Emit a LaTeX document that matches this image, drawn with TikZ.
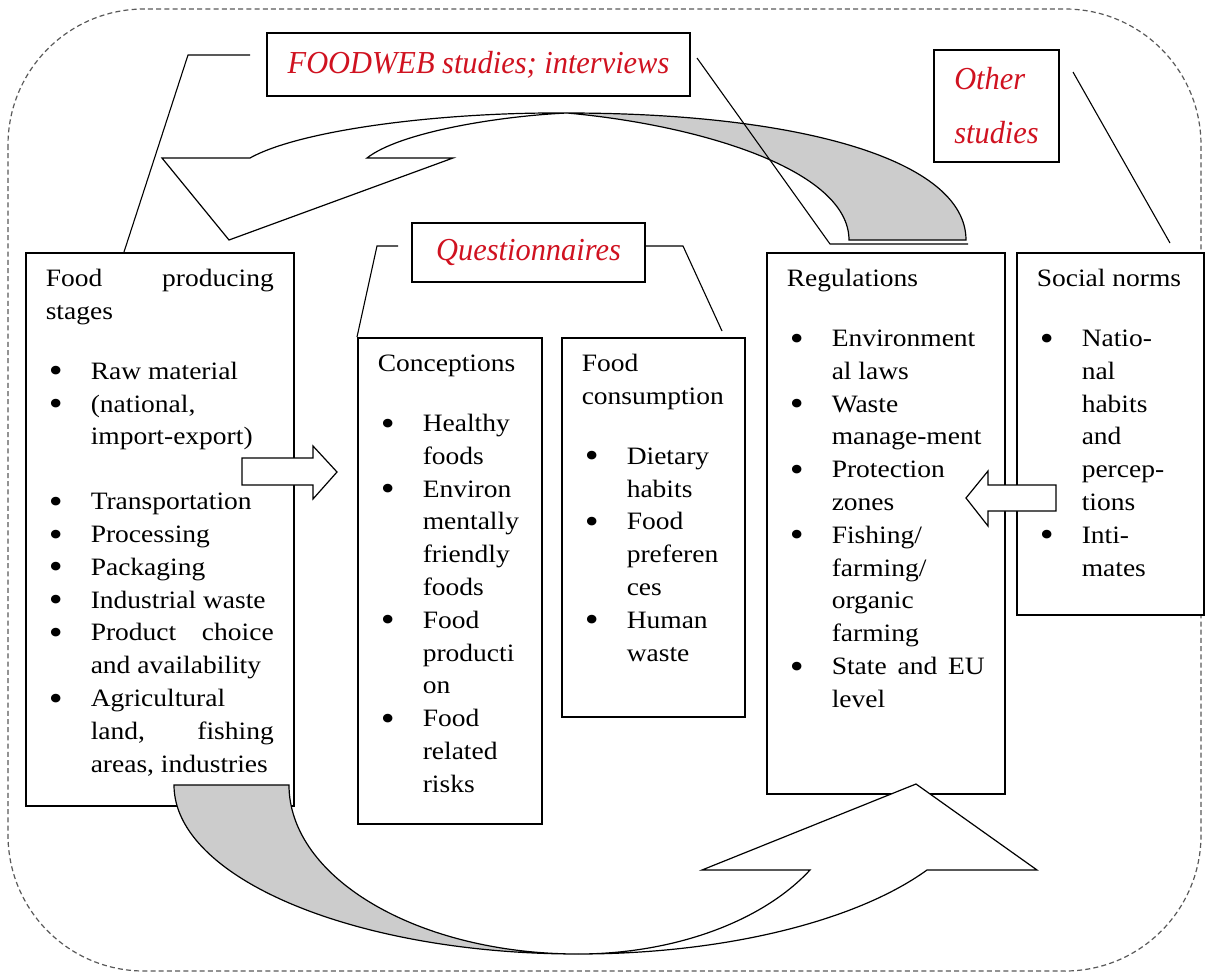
\documentclass[tikz,border=0pt]{standalone}
\usepackage{fontspec}
\setmainfont[FakeStretch=1.1]{Liberation Serif}
\newfontfamily\tagfont[FakeStretch=0.95]{Liberation Serif}
\usepackage{xcolor}
\usetikzlibrary{calc}
\definecolor{tagRed}{RGB}{208,18,32}
\definecolor{bandGray}{RGB}{204,204,204}
\tikzset{
  panel/.style={draw, line width=0.75pt, fill=white, anchor=north west,
                inner xsep=10pt, inner ysep=5.5pt},
  tagbox/.style={draw, line width=0.75pt, fill=white, inner sep=0pt,
                 font=\tagfont\itshape\fontsize{16}{27}\selectfont, text=tagRed},
  lead/.style={line width=0.55pt},
  blockarrow/.style={draw, line width=0.6pt, fill=white, line join=miter},
  band/.style={draw, line width=0.6pt, fill=bandGray},
  dashframe/.style={draw=black!65, line width=0.6pt, dash pattern=on 2.5pt off 1.6pt,
                    rounded corners=68pt},
}
\newcommand{\Bul}[1]{\par\hangindent=22.5pt\hangafter=1\noindent
  \makebox[22.5pt][l]{\hspace{1.5pt}\raisebox{-1.8pt}{\fontsize{18}{16}\selectfont\textbullet}}#1}
\newcommand{\Gap}[1][13.5pt]{\par\vspace{#1}}
\newcommand{\Panel}[6]{% {name}{x}{y}{text width}{text height}{body}
  \node[panel] (#1) at (#2,#3) {\parbox[c][#5][t]{#4}{%
    \fontsize{12.5}{16.4}\selectfont\raggedright
    \hyphenpenalty=10000\exhyphenpenalty=10000\hbadness=10000
    \strut #6\par}};}

\begin{document}
\begin{tikzpicture}[x=0.5pt, y=-0.5pt]
  \useasboundingbox (0,0) rectangle (1207,976);
  \draw[dashframe] (8,9) rectangle (1201,971);
  % the five content panels
  \Panel{fp}{25}{252}{114pt}{265.5pt}{%
    Food\hfill producing\newline stages\Gap
    \Bul{Raw material}
    \Bul{(national,\newline import-export)}\Gap[16pt]
    \Bul{Transportation}
    \Bul{Processing}
    \Bul{Packaging}
    \Bul{Industrial waste}
    \Bul{Product\hfill choice\newline and availability}
    \Bul{Agricultural\newline land,\hfill fishing\newline areas, industries}}
  \Panel{con}{357}{337}{72pt}{232pt}{%
    Conceptions\Gap
    \Bul{Healthy\newline foods}
    \Bul{Environ\newline mentally\newline friendly\newline foods}
    \Bul{Food\newline producti\newline on}
    \Bul{Food\newline related\newline risks}}
  \Panel{cons}{561}{337}{71.5pt}{178.5pt}{%
    Food\newline consumption\Gap
    \Bul{Dietary\newline habits}
    \Bul{Food\newline preferen\newline ces}
    \Bul{Human\newline waste}}
  \Panel{reg}{766}{252}{99pt}{259.5pt}{%
    Regulations\Gap
    \Bul{Environment\newline al laws}
    \Bul{Waste\newline manage-ment}
    \Bul{Protection\newline zones}
    \Bul{Fishing/\newline farming/\newline organic\newline farming}
    \Bul{State\hfill and\hfill EU\newline level}}
  \Panel{soc}{1016}{252}{73.5pt}{170pt}{%
    Social norms\Gap
    \Bul{Natio-\newline nal\newline habits\newline and\newline percep-\newline tions}
    \Bul{Inti-\newline mates}}
  % source labels
  \node[tagbox, minimum width=211.5pt, minimum height=31.5pt] (fw) at (478.5,64.5)
    {FOODWEB studies; interviews};
  \node[tagbox, minimum width=116.5pt, minimum height=29.5pt] (qs) at (528.5,252.5)
    {Questionnaires};
  \node[tagbox, minimum width=62.5pt, minimum height=56pt, align=left] (os) at (996.5,106)
    {Other\\studies};
  % straight block arrows
  \draw[blockarrow] (242,458) -- (313,458) -- (313,446) -- (337,472) -- (313,499)
    -- (313,485) -- (242,485) -- cycle;
  \draw[blockarrow] (1056,485) -- (988,485) -- (988,471) -- (966,498) -- (988,526)
    -- (988,511) -- (1056,511) -- cycle;
  % upper curved arrow (back face grey, front face white)
  \draw[band] (567,113) .. controls (800,113) and (966,160) .. (966,240)
    -- (849,240) .. controls (849,170) and (700,125) .. (567,113) -- cycle;
  \draw[blockarrow] (567,113) .. controls (440,112) and (300,130) .. (250,158)
    -- (162,158) -- (229,240) -- (453,158) -- (367,158)
    .. controls (400,132) and (500,116) .. (567,113) -- cycle;
  % lower curved arrow
  \draw[band] (174,785) .. controls (174,878) and (355,954) .. (578,954)
    .. controls (418,954) and (289,878) .. (289,785) -- cycle;
  \draw[blockarrow] (578,954) .. controls (722,954) and (855,922) .. (927,870)
    -- (1037,870) -- (916,784) -- (702,870) -- (810,870)
    .. controls (762,922) and (673,954) .. (578,954) -- cycle;
  % leader lines from the labels
  \coordinate (fwA) at (250,55);
  \coordinate (fwB) at (188,55);
  \coordinate (fpT) at (124,252);
  \coordinate (fwC) at (697,58);
  \coordinate (fwD) at (830,244);
  \coordinate (fwE) at (968,244);
  \coordinate (qsA) at (398,246);
  \coordinate (qsB) at (377,246);
  \coordinate (qsC) at (645,246);
  \coordinate (qsD) at (683,246);
  \coordinate (consT) at (722,331);
  \coordinate (osA) at (1073,72);
  \coordinate (socT) at (1170,243);
  \draw[lead] (fwA) -- (fwB) -- (fpT);
  \draw[lead] (fwC) -- (fwD) -- (fwE);
  \draw[lead] (qsA) -- (qsB) -- (con.north west);
  \draw[lead] (qsC) -- (qsD) -- (consT);
  \draw[lead] (osA) -- (socT);
\end{tikzpicture}
\end{document}
